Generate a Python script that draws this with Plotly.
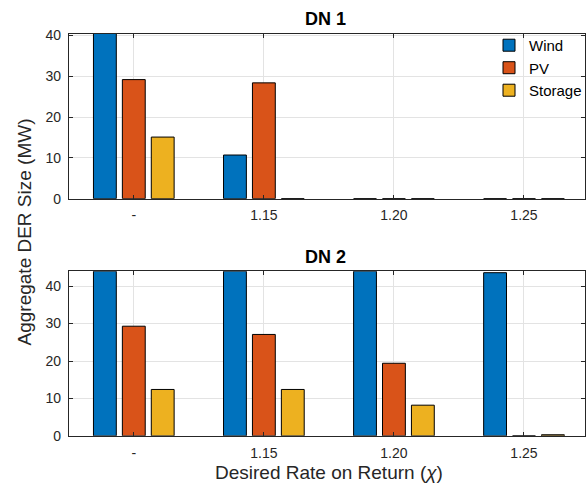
import plotly.graph_objects as go

categories = ["-", "1.15", "1.20", "1.25"]
series_names = ["Wind", "PV", "Storage"]
colors = ["#0072BD", "#D95319", "#EDB120"]

dn1_wind = [44.0, 10.7, 0.0, 0.0]
dn1_pv = [29.2, 28.4, 0.0, 0.0]
dn1_storage = [15.1, 0.0, 0.0, 0.0]

dn2_wind = [44.0, 44.0, 44.0, 43.6]
dn2_pv = [29.3, 27.1, 19.4, 0.0]
dn2_storage = [12.4, 12.4, 8.2, 0.3]

W, H = 587, 485
fig = go.Figure()

dn1 = [dn1_wind, dn1_pv, dn1_storage]
dn2 = [dn2_wind, dn2_pv, dn2_storage]
for i, name in enumerate(series_names):
    fig.add_trace(go.Bar(x=categories, y=dn1[i], name=name, marker_color=colors[i],
                         marker_line=dict(color="#000000", width=1),
                         xaxis="x", yaxis="y", legendgroup=name, showlegend=True))
for i, name in enumerate(series_names):
    fig.add_trace(go.Bar(x=categories, y=dn2[i], name=name, marker_color=colors[i],
                         marker_line=dict(color="#000000", width=1),
                         xaxis="x2", yaxis="y2", legendgroup=name, showlegend=False))

axcol = "#262626"
font = "Liberation Sans, Arial, Helvetica, sans-serif"

def px_x(p):
    return p / W

def px_y(p):
    q = (p - 5.0) / 0.973
    return 1 - q / H

common_x = dict(type="category", range=[-0.5, 3.469], showgrid=True, gridcolor="#e3e3e3",
                gridwidth=1, showline=True, linecolor=axcol, linewidth=1, mirror="ticks",
                ticks="inside", ticklen=4, tickcolor=axcol, tickfont=dict(size=14, color=axcol),
                ticklabelstandoff=4,
                domain=[px_x(69), 1.0], zeroline=False)
common_y = dict(showgrid=True, gridcolor="#e3e3e3", gridwidth=1, showline=True, linecolor=axcol,
                linewidth=1, mirror="ticks", ticks="inside", ticklen=4, tickcolor=axcol,
                tickfont=dict(size=14, color=axcol), dtick=10, zeroline=False,
                ticklabelstandoff=4)

fig.update_layout(
    width=W, height=H,
    margin=dict(l=0, r=0, t=0, b=0),
    paper_bgcolor="white", plot_bgcolor="white",
    font=dict(family=font, color=axcol),
    barmode="group", bargap=0.333, bargroupgap=0.21,
    xaxis=dict(common_x, anchor="y"),
    yaxis=dict(common_y, range=[0, 40.4], domain=[px_y(198), px_y(33)], anchor="x"),
    xaxis2=dict(common_x, anchor="y2"),
    yaxis2=dict(common_y, range=[0, 44.0], domain=[px_y(435.7), px_y(270.7)], anchor="x2"),
    showlegend=True,
    legend=dict(x=px_x(491), y=px_y(28), xanchor="left", yanchor="top",
                bgcolor="rgba(255,255,255,0)", borderwidth=0,
                font=dict(size=15, color="#000000"), tracegroupgap=0),
)

ann = dict(xref="paper", yref="paper", showarrow=False, xanchor="center", yanchor="middle")
fig.add_annotation(text="<b>DN 1</b>", x=px_x(327), y=px_y(18),
                   font=dict(size=18, color="#000000"), **ann)
fig.add_annotation(text="<b>DN 2</b>", x=px_x(327), y=px_y(256),
                   font=dict(size=18, color="#000000"), **ann)
fig.add_annotation(text="Aggregate DER Size (MW)", x=px_x(25), y=px_y(231), textangle=-90,
                   font=dict(size=19, color=axcol), **ann)
fig.add_annotation(text="Desired Rate on Return (<i>χ</i>)", x=px_x(330), y=px_y(472),
                   font=dict(size=19, color=axcol), **ann)

fig.write_html("out.html")
